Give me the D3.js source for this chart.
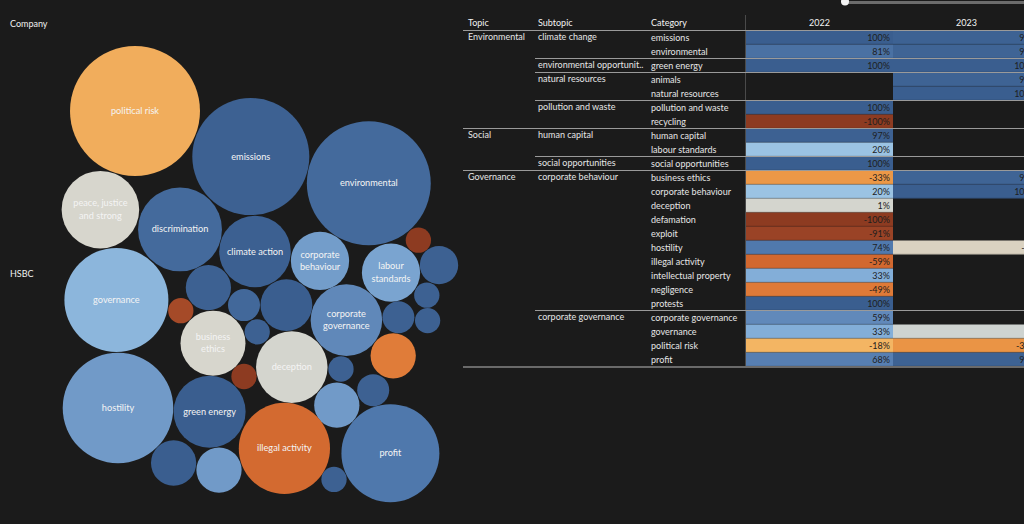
<!DOCTYPE html>
<html><head><meta charset="utf-8">
<script src="https://cdn.jsdelivr.net/npm/d3@7"></script>
<style>
html,body{margin:0;padding:0;background:#1b1b1b;}
svg{display:block;font-family:Lato,"Noto Sans",sans-serif;}
</style></head><body>
<svg id="chart" width="1024" height="524"></svg>
<script>
// ---------- Bubble chart data (HSBC) ----------
const bubbleCategories = ["political risk","emissions","environmental","peace, justice and strong","discrimination","climate action","corporate behaviour","labour standards","recycling","human capital","animals","natural resources","pollution and waste","corporate governance","social opportunities","protests","sustainability","transparency","exploit","governance","business ethics","defamation","deception","renewable energy","negligence","diversity","intellectual property","hostility","green energy","illegal activity","profit","biodiversity","community","fraud"];
const bubbleMentions = [264,214,240,94,110,80,53,53,10,23,10,10,16,80,32,16,42,10,10,169,66,10,80,10,32,16,32,191,81,130,150,32,32,10];
const bubbleSentiment = [-22,97,88,0,88,98,45,40,-100,97,97,97,97,60,97,90,100,97,-85,28,0,-100,1,97,-48,97,47,47,100,-58,75,100,47,97];
// packed-bubble layout, as fractions of the bubble pane
const bubbleLayoutX = [.2125,.502,.797,.126,.325,.5125,.675,.8525,.921,.9725,.942,.944,.871,.741,.396,.485,.591,.518,.327,.166,.4075,.485,.6045,.7275,.858,.808,.717,.170,.399,.586,.851,.309,.4225,.710];
const bubbleLayoutY = [.151,.248,.305,.361,.403,.450,.470,.495,.426,.479,.543,.597,.590,.596,.527,.564,.564,.621,.576,.553,.645,.716,.696,.700,.672,.745,.777,.783,.791,.869,.879,.900,.915,.935];

// ---------- Table data ----------
const tableTopics = ["Environmental","Environmental","Environmental","Environmental","Environmental","Environmental","Environmental","Social","Social","Social","Governance","Governance","Governance","Governance","Governance","Governance","Governance","Governance","Governance","Governance","Governance","Governance","Governance","Governance"];
const tableSubtopics = ["climate change","climate change","environmental opportunities","natural resources","natural resources","pollution and waste","pollution and waste","human capital","human capital","social opportunities","corporate behaviour","corporate behaviour","corporate behaviour","corporate behaviour","corporate behaviour","corporate behaviour","corporate behaviour","corporate behaviour","corporate behaviour","corporate behaviour","corporate governance","corporate governance","corporate governance","corporate governance"];
const tableCategories = ["emissions","environmental","green energy","animals","natural resources","pollution and waste","recycling","human capital","labour standards","social opportunities","business ethics","corporate behaviour","deception","defamation","exploit","hostility","illegal activity","intellectual property","negligence","protests","corporate governance","governance","political risk","profit"];
const years = ["2022","2023"];
const sentiment2022 = [100,81,100,null,null,100,-100,97,20,100,-33,20,1,-100,-91,74,-59,33,-49,100,59,33,-18,68];
const sentiment2023 = [96,94,100,95,100,null,null,null,null,null,94,100,null,null,null,-2,null,null,null,null,null,3,-35,96];

// ---------- Shared colour scale ----------
const color = d3.scaleLinear()
  .domain([-100,-91,-59,-49,-33,-18,0,20,33,59,74,81,100])
  .range(["#8d3b21","#9a4326","#d2682f","#df7a38","#ec9847","#f3b563","#d7d6cd","#9bc3e3","#83aed8","#6189ba","#5079ad","#4a71a3","#3a5e8f"])
  .clamp(true);
const pct = v => (v<0?"-":"") + Math.abs(Math.round(v)) + "%";

const svg = d3.select("#chart");

// ---------- Left pane ----------
svg.append("text").attr("x",10).attr("y",27).attr("fill","#f0f0f0")
  .attr("font-size",9).text("Company");
svg.append("text").attr("x",10).attr("y",277).attr("fill","#f0f0f0")
  .attr("font-size",9).text("HSBC");

const bx = d3.scaleLinear().domain([0,1]).range([50,450]);
const by = d3.scaleLinear().domain([0,1]).range([40,510]);
const br = d3.scaleSqrt().domain([0,d3.max(bubbleMentions)]).range([0,65]);

const bubbles = bubbleCategories.map((c,i)=>({
  name:c, v:bubbleMentions[i], s:bubbleSentiment[i],
  x:bx(bubbleLayoutX[i]), y:by(bubbleLayoutY[i]), r:br(bubbleMentions[i])
}));

const g = svg.append("g");
const node = g.selectAll("g.b").data(bubbles).join("g").attr("class","b")
  .attr("transform",d=>`translate(${d.x},${d.y})`);
node.append("circle").attr("r",d=>d.r).attr("fill",d=>color(d.s));

// labels for bubbles large enough
const labelFs = 9.2;
node.filter(d=>d.r>=28).each(function(d){
  const gg = d3.select(this);
  const t = gg.append("text").attr("text-anchor","middle").attr("fill","#f4f4f4")
    .attr("font-size",labelFs);
  const maxW = 2*d.r-12;
  const words = d.name.split(" ");
  const lines=[]; let cur="";
  const meas = gg.append("text").attr("font-size",labelFs).attr("opacity",0);
  words.forEach(w=>{
    const test = cur?cur+" "+w:w;
    meas.text(test);
    if(meas.node().getComputedTextLength()>maxW && cur){lines.push(cur);cur=w;}
    else cur=test;
  });
  lines.push(cur); meas.remove();
  const lh=12.5, y0=-(lines.length-1)*lh/2+3;
  lines.forEach((l,k)=>t.append("tspan").attr("x",0).attr("y",y0+k*lh).text(l));
});

// ---------- Table ----------
const rowY = d3.scaleBand().domain(d3.range(tableCategories.length)).range([30.5,366.5]);
const colX = d3.scaleBand().domain(years).range([746,1040]);
const rh = rowY.bandwidth();
const colTopic=468, colSub=538, colCat=651;
const textCol="#e6e6e6";

// header
const hdr = svg.append("g").attr("font-size",9).attr("fill","#f2f2f2");
hdr.append("text").attr("x",colTopic).attr("y",26).text("Topic");
hdr.append("text").attr("x",colSub).attr("y",26).text("Subtopic");
hdr.append("text").attr("x",colCat).attr("y",26).text("Category");
years.forEach(yr=>hdr.append("text").attr("x",colX(yr)+colX.bandwidth()/2).attr("y",26)
  .attr("text-anchor","middle").text(yr));

// cells
const cells=[];
tableCategories.forEach((c,i)=>{
  [sentiment2022[i],sentiment2023[i]].forEach((v,j)=>{ if(v!==null) cells.push({i,yr:years[j],v}); });
});
const cg = svg.append("g");
cg.selectAll("rect").data(cells).join("rect")
  .attr("x",d=>colX(d.yr)).attr("y",d=>rowY(d.i))
  .attr("width",colX.bandwidth()).attr("height",rh)
  .attr("fill",d=>color(d.v));
cg.selectAll("line.sep").data(cells).join("line").attr("class","sep")
  .attr("x1",d=>colX(d.yr)).attr("x2",d=>colX(d.yr)+colX.bandwidth())
  .attr("y1",d=>rowY(d.i)+rh-0.5).attr("y2",d=>rowY(d.i)+rh-0.5)
  .attr("stroke","rgba(0,0,0,0.12)");
cg.selectAll("text").data(cells).join("text")
  .attr("x",d=>colX(d.yr)+colX.bandwidth()-3).attr("y",d=>rowY(d.i)+rh/2+3.2)
  .attr("text-anchor","end").attr("font-size",9).attr("fill","#1e1e1e")
  .text(d=>pct(d.v));

// row labels
const tg = svg.append("g").attr("font-size",9).attr("fill",textCol);
function fitText(sel, str, maxW){
  sel.text(str);
  if(sel.node().getComputedTextLength()<=maxW) return;
  let s=str;
  while(s.length>1){ s=s.slice(0,-1); sel.text(s+".."); if(sel.node().getComputedTextLength()<=maxW) return; }
}
tableCategories.forEach((c,i)=>{
  const yy = rowY(i)+rh/2+3.2;
  tg.append("text").attr("x",colCat).attr("y",yy).text(c);
  if(i===0 || tableTopics[i]!==tableTopics[i-1])
    tg.append("text").attr("x",colTopic).attr("y",yy-0.5).text(tableTopics[i]);
  if(i===0 || tableSubtopics[i]!==tableSubtopics[i-1] || tableTopics[i]!==tableTopics[i-1])
    fitText(tg.append("text").attr("x",colSub).attr("y",yy-0.5), tableSubtopics[i], 106);
});

// grid lines
const lg = svg.append("g");
lg.append("line").attr("x1",745.5).attr("x2",745.5).attr("y1",15).attr("y2",367)
  .attr("stroke","#4a4a4a");
lg.append("line").attr("x1",463).attr("x2",1024).attr("y1",30.5).attr("y2",30.5)
  .attr("stroke","#9a9a9a");
tableCategories.forEach((c,i)=>{
  if(i===0) return;
  const yy = rowY(i);
  if(tableTopics[i]!==tableTopics[i-1])
    lg.append("line").attr("x1",463).attr("x2",1024).attr("y1",yy).attr("y2",yy).attr("stroke","#9a9a9a");
  else if(tableSubtopics[i]!==tableSubtopics[i-1])
    lg.append("line").attr("x1",535).attr("x2",1024).attr("y1",yy).attr("y2",yy).attr("stroke","#9a9a9a");
});
lg.append("line").attr("x1",463).attr("x2",1024).attr("y1",367).attr("y2",367)
  .attr("stroke","#6a6a6a").attr("stroke-width",2);

// top slider
svg.append("rect").attr("x",843).attr("y",1).attr("width",181).attr("height",3).attr("fill","#6c6c6c");
svg.append("circle").attr("cx",845).attr("cy",1.5).attr("r",4).attr("fill","#f4f4f4");
</script>
</body></html>
